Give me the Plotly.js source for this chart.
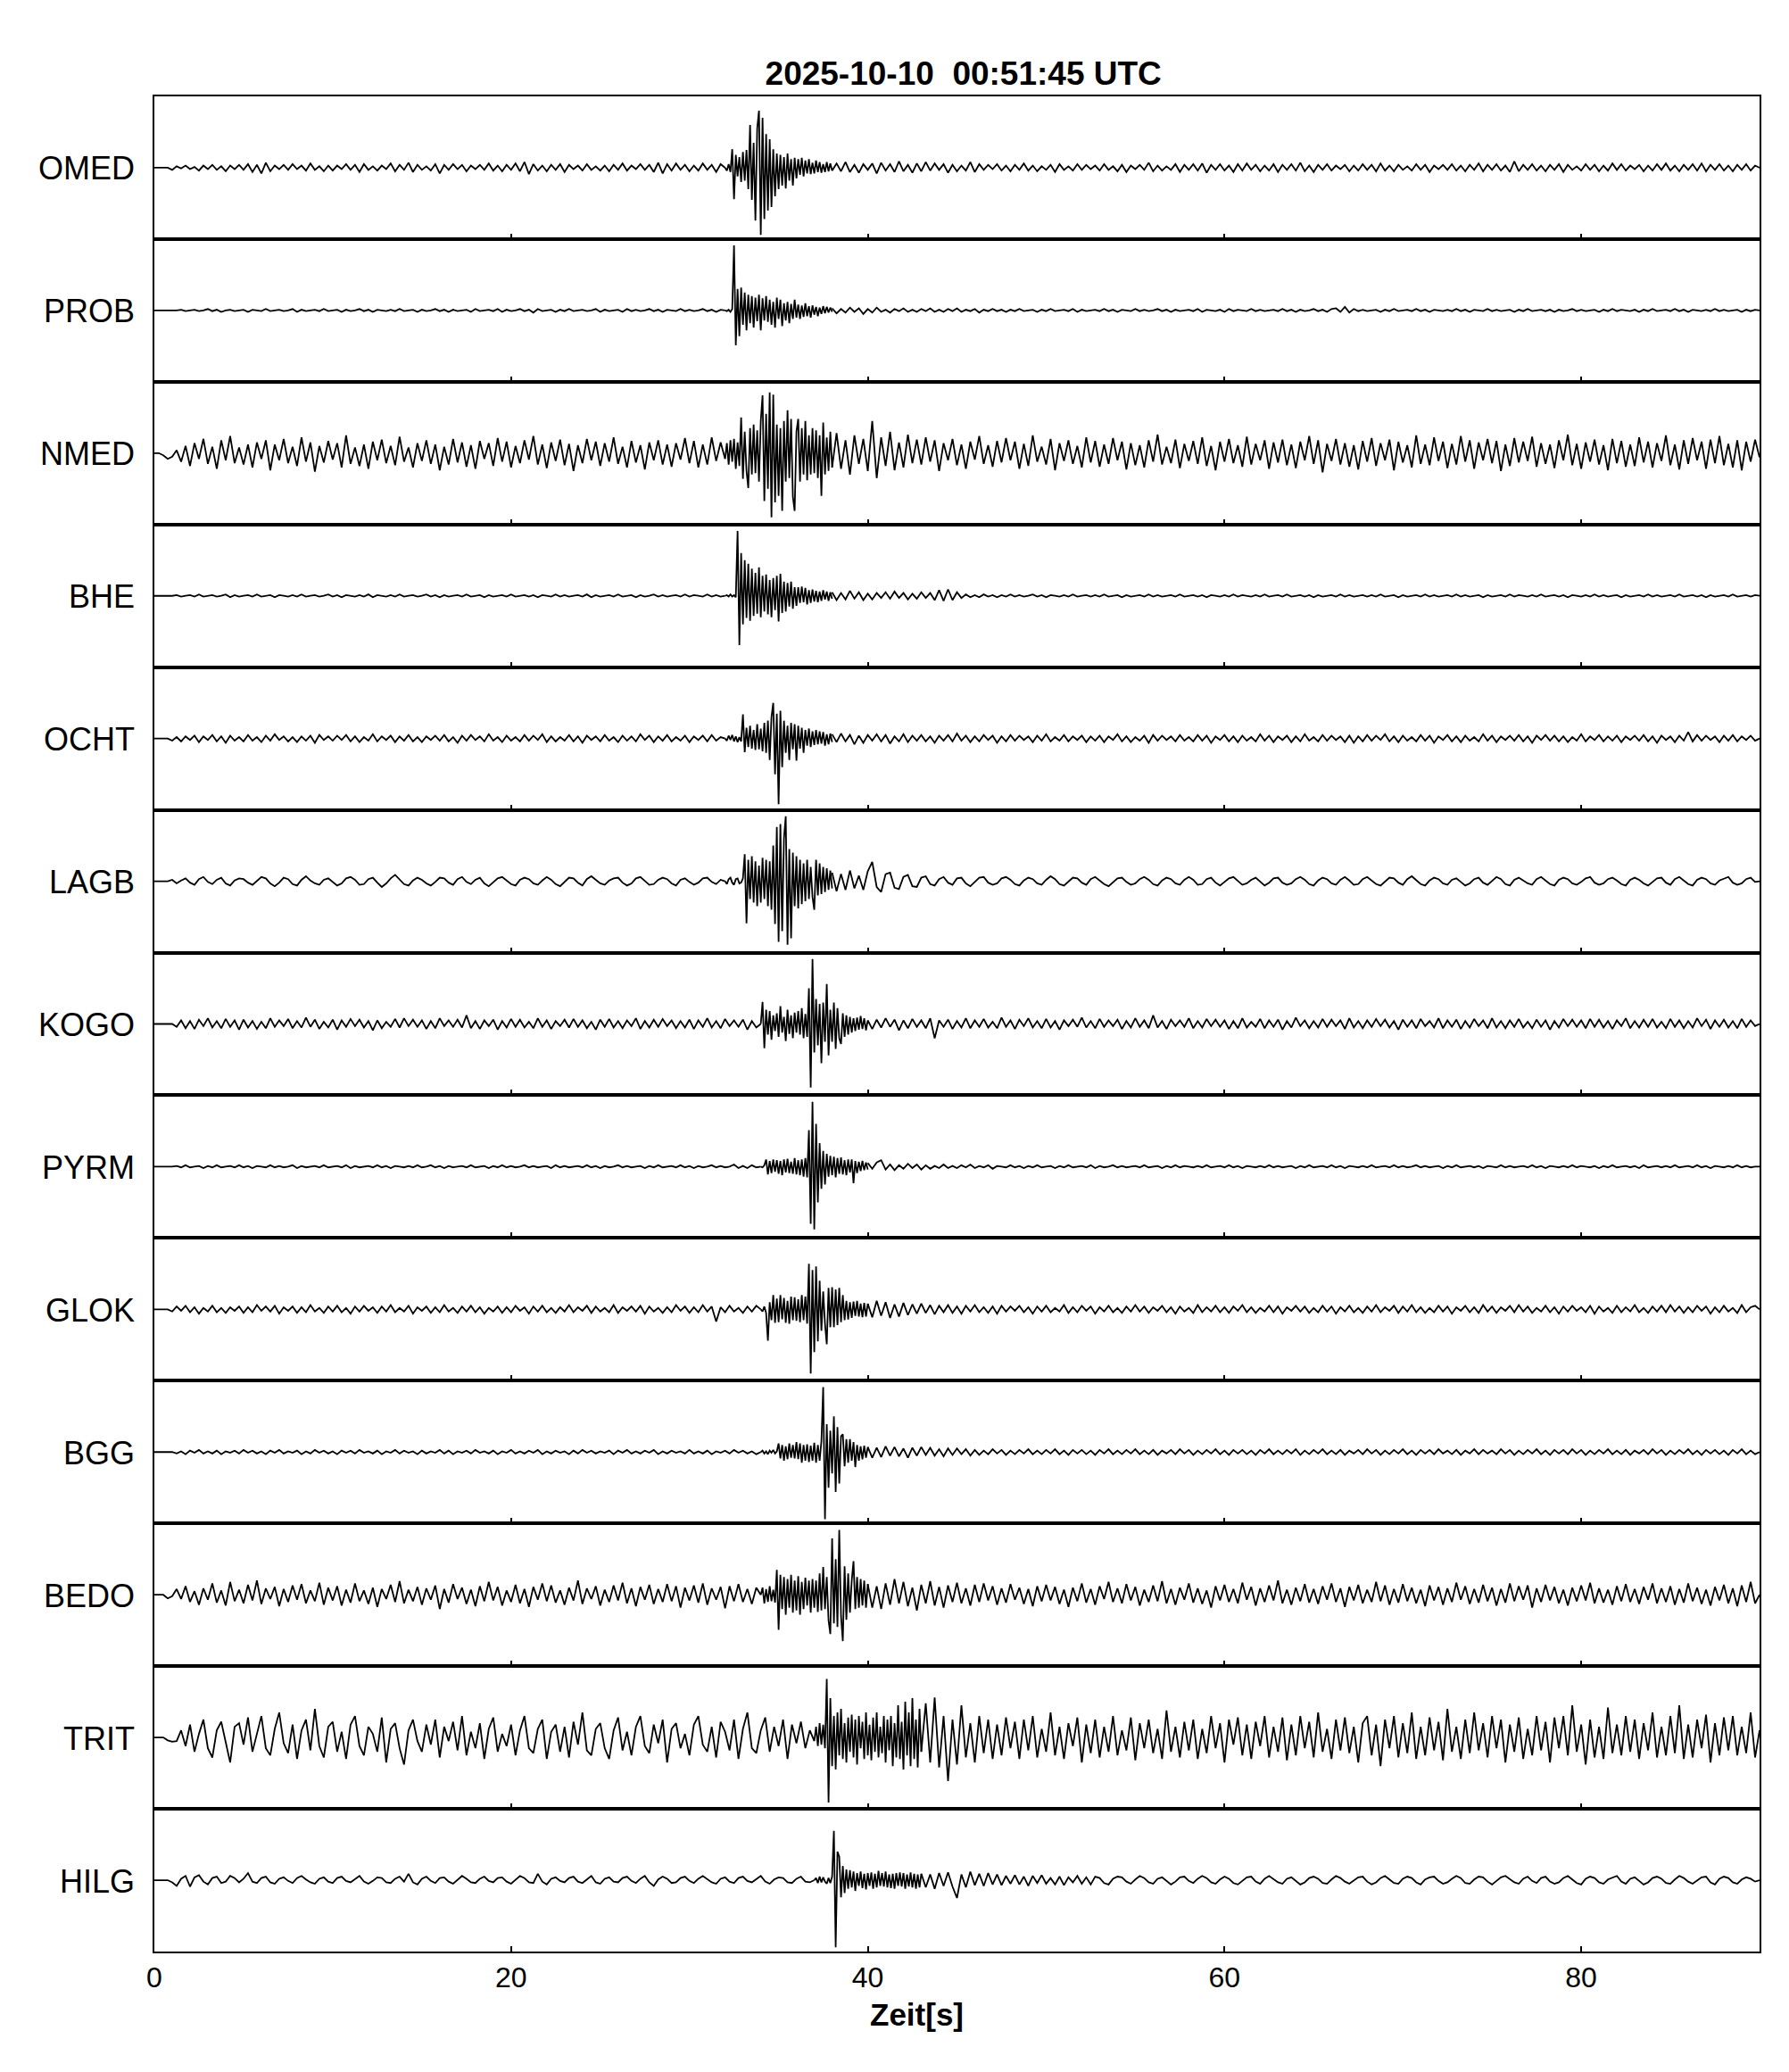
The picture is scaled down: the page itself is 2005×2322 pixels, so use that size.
<!DOCTYPE html>
<html>
<head>
<meta charset="utf-8">
<script src="https://cdn.plot.ly/plotly-3.0.1.min.js"></script>
<style>html,body{margin:0;padding:0;background:#fff;}#chart{width:2005px;height:2322px;}</style>
</head>
<body>
<div id="chart"></div>
<script>
// ---- data: station names, time windows (s), sample steps (s) ----
const stations = ['OMED','PROB','NMED','BHE','OCHT','LAGB','KOGO','PYRM','GLOK','BGG','BEDO','TRIT','HILG'];
const evtStart = [32,32,32,32,32,32,34,34,34,34,34,37,37];
const postStart = [38,38,38,38,38,38,40,40,40,40,40,43,43];
const bgStep = 0.25;
const evtStep = 0.1;
const tickVals = [0,20,40,60,80];
const tickText = ['0','20','40','60','80'];
const titleText = '2025-10-10\u00a0 00:51:45 UTC';
const xTitle = 'Zeit[s]';

// amplitudes in percent of half panel height
const omedPre = [0,0,0,0,-3,2,-1,3,-2,1,-4,3,-2,4,-3,2,-5,3,-2,4,
-3,5,-6,4,-8,7,-5,3,-2,4,-3,5,-2,3,-4,6,-3,2,-5,3,
-4,3,-2,5,-3,4,-6,5,-3,2,-4,3,-2,6,-5,4,-3,7,-6,4,
-3,2,-4,5,-8,4,-3,5,-2,4,-5,3,-2,4,-3,6,-4,3,-5,4,
-3,6,-5,8,-9,5,-4,3,-5,4,-3,5,-6,4,-2,3,-4,5,-3,2,
-4,3,-5,4,-3,6,-4,3,-2,5,-3,4,-6,7,-8,5,-4,6,-3,4,
-5,3,-4,6,-3,4,-6,5,0];
const omedEvt = [0,-4,5,-6,26,-44,18,-12,15,-20,
22,-18,25,-30,60,-45,35,-74,55,80,
-94,70,-72,47,-60,40,-55,26,-40,20,
-30,18,-25,15,-29,20,-18,12,-25,14,
-15,12,-10,14,-12,10,-8,12,-9,7,
-8,10,-6,8,-7,5,-6,8,-5,6,-4];
const omedPost = [-4,6,-5,8,-6,4,-7,5,-3,6,-8,7,-4,5,-6,9,-5,4,-7,6,
-5,8,-4,6,-3,5,-7,4,-5,3,-4,8,-6,5,-3,4,-2,5,-4,3,
-5,4,-3,6,-4,3,-5,2,-3,4,-6,5,-3,2,-4,5,-3,4,-2,3,
-4,5,-3,2,-5,4,-6,3,-2,4,-3,7,-5,3,-4,2,-3,5,-6,4,
-3,5,-4,6,-7,4,-3,5,-4,3,-6,5,-4,6,-3,4,-5,3,-4,5,
-6,4,-3,5,-4,7,-5,3,-6,4,-3,5,-4,3,-2,4,-5,3,-4,5,
-3,4,-5,6,-4,3,-5,4,-3,2,-4,5,-3,4,-6,3,-2,4,-3,5,
-4,3,-5,4,-3,6,-5,4,-3,5,-4,3,-6,9,-5,4,-3,5,-4,3,
-5,4,-3,5,-6,4,-3,2,-4,5,-3,4,-5,3,-4,6,-3,5,-4,3,
-2,4,-5,3,-4,5,-3,6,-4,3,-5,4,-3,5,-4,6,-5,4,-3,5,
-4,3,-5,4,-3,5,-4,3,0];

const probPre = [0,0,0,0,0,0,1,-1,0,1,-1,0,2,-1,1,-2,0,1,-1,0,
1,-2,1,0,-1,2,-1,0,1,-1,0,2,-2,1,-1,0,1,-1,2,-1,
0,1,-2,1,-1,0,2,-1,1,-2,1,0,-1,1,-1,2,-1,0,1,-2,
1,-1,0,2,-1,1,-2,1,-1,0,1,-2,2,-1,0,1,-1,2,-2,1,
-1,0,2,-1,1,-3,2,-1,0,1,-2,1,-1,2,-1,0,1,-1,0,2,
-2,1,-1,0,1,-2,2,-1,1,-1,0,2,-1,1,-2,1,0,-1,2,-1,
1,-1,0,2,-1,1,-2,1,0];
const probEvt = [0,-1,1,-2,2,91,-49,30,-36,32,
-20,25,-28,22,-18,20,-24,18,-15,22,
-28,17,-14,20,-16,15,-20,12,-24,18,
-12,15,-22,10,-14,12,-18,9,-12,15,
-10,8,-12,7,-9,10,-8,6,-10,7,
-6,5,-8,4,-5,6,-4,5,-3,4,-2];
const probPost = [3,-4,2,-3,4,-2,3,-5,2,-3,4,-2,1,-3,2,-1,3,-2,1,-2,
2,-1,3,-2,1,-2,2,-1,3,-2,1,-1,2,-3,1,-1,2,-1,1,-2,
1,-1,2,-1,0,1,-2,1,-1,2,-1,0,1,-1,2,-2,1,-1,0,1,
-1,2,-1,1,-2,1,0,-1,2,-1,1,-1,0,2,-1,1,-2,1,-1,0,
1,-1,2,-2,1,0,-1,1,-2,2,-1,1,0,-1,2,-1,1,-1,0,1,
-1,2,-1,1,-2,1,-1,0,2,-1,1,-2,2,3,-2,5,-3,2,-1,1,
-1,0,1,-2,1,-1,2,-1,0,1,-1,2,-1,1,-2,1,0,-1,1,-1,
2,-1,1,-2,1,0,-1,2,-1,1,-1,0,1,-2,1,-1,2,-1,0,1,
-1,1,-2,1,-1,0,2,-1,1,-1,0,1,-2,1,-1,2,-1,1,0,-1,
1,-2,1,-1,2,-1,0,1,-1,2,-1,1,-2,1,0,-1,1,-1,2,-1,
1,-1,0,1,-2,1,-1,1,0];

const nmedPre = [0,0,-3,-8,-5,4,-12,10,-18,14,-8,20,-15,9,-22,18,-10,24,-14,8,
-16,12,-20,15,-8,18,-24,12,-10,20,-14,9,-18,22,-12,15,-26,10,-13,17,
-9,14,-20,25,-15,8,-18,12,-22,16,-10,19,-14,10,-17,23,-12,8,-20,14,
-11,18,-15,12,-24,9,-16,20,-13,15,-19,11,-22,17,-8,14,-18,21,-12,16,
-20,10,-14,18,-9,24,-16,12,-21,15,-11,19,-17,13,-25,11,-14,20,-10,16,
-18,14,-12,22,-15,9,-20,17,-13,11,-23,15,-10,18,-16,12,-19,14,-9,21,
-14,17,-20,12,-16,22,-11,15,-8];
const nmedEvt = [-8,14,-16,18,-12,20,-22,15,-18,50,
-36,30,-25,-49,35,-30,40,-28,32,-40,
45,81,-67,55,-50,85,-90,82,-69,40,
-60,35,-81,45,-40,60,-35,48,-61,-81,
30,48,-40,35,-30,45,-38,25,-30,35,
-28,32,-35,25,-60,43,-30,22,-25,30,-20];
const nmedPost = [-20,28,-22,18,-30,25,-15,20,-25,45,-35,22,-18,30,-24,15,-20,26,-14,19,
-16,22,-12,18,-25,14,-10,20,-17,12,-22,16,-9,24,-15,11,-19,17,-13,21,
-10,16,-22,13,-18,25,-12,9,-16,20,-24,14,-11,18,-15,10,-20,22,-13,17,
-19,12,-15,21,-10,16,-23,14,-17,11,-20,18,-12,26,-16,9,-14,19,-21,13,
-11,17,-15,22,-18,10,-24,16,-12,20,-14,11,-19,23,-16,13,-10,18,-22,15,
-13,19,-17,12,-21,16,-10,24,-15,18,-27,13,-11,20,-16,14,-19,11,-23,17,
-12,21,-18,14,-10,19,-24,16,-13,11,-20,25,-15,12,-17,22,-11,16,-21,13,
-16,24,-12,18,-22,15,-10,20,-14,17,-25,12,-18,21,-13,16,-11,23,-19,14,
-15,12,-21,18,-10,26,-17,13,-22,15,-12,19,-16,11,-24,20,-14,17,-19,12,
-18,22,-13,16,-20,14,-11,25,-17,12,-23,18,-15,21,-10,16,-22,19,-14,24,
-17,13,-20,18,-24,16,-12,19,-6];

const bhePre = [0,0,0,0,0,1,-1,0,1,-1,2,-1,0,1,-1,0,2,-2,1,-1,
0,1,-1,2,-1,0,1,-2,1,0,-1,1,-1,2,-1,0,1,-1,0,2,
-1,1,-2,1,0,-1,1,-1,2,-2,1,0,-1,1,-1,2,-1,0,1,-1,
0,2,-1,1,-2,1,-1,0,1,-1,2,-1,0,1,-2,1,-1,0,1,-1,
2,-1,0,1,-1,1,-2,1,0,-1,2,-1,1,-1,0,1,-1,2,-2,1,
-1,0,1,-1,2,-1,0,1,-2,1,-1,0,2,-1,1,-1,0,1,-1,2,
-1,1,0,-1,2,-1,1,-1,0];
const bheEvt = [0,1,-1,2,-1,1,-2,91,-69,60,
-40,50,-31,45,-35,38,-28,32,-25,40,
-30,28,-22,30,-26,22,-30,25,-20,28,
-36,31,-24,20,-22,18,-15,20,-18,12,
-14,12,-10,13,-9,11,-12,8,-10,9,
-8,7,-9,6,-7,8,-5,6,-7,5,-4];
const bhePost = [5,-6,4,-5,7,-4,5,-6,3,-5,4,-3,5,-4,6,-3,4,-5,3,-4,
5,-3,4,-6,8,-7,9,-6,5,-3,2,-2,1,-2,2,-1,1,-2,1,-1,
2,-1,1,-1,0,2,-1,1,-2,1,0,-1,1,-1,2,-1,0,1,-1,1,
-1,2,-1,0,1,-2,1,-1,0,1,-1,2,-1,1,-1,0,1,-1,2,-1,
0,1,-1,1,-2,1,0,-1,1,-1,2,-1,1,0,-1,1,-1,2,-1,0,
1,-1,2,-1,0,1,-1,1,-2,1,-1,0,1,-1,2,-1,1,-1,0,1,
-1,1,-1,2,-1,0,1,-2,1,-1,0,1,-1,2,-1,1,-1,0,1,-1,
2,-1,1,-1,0,1,-2,1,-1,0,1,-1,2,-1,1,0,-1,1,-1,2,
-1,0,1,-1,1,-2,1,0,-1,1,-1,2,-1,1,-1,0,1,-2,1,-1,
0,1,-1,2,-1,1,-1,0,1,-1,2,-1,0,1,-1,1,-2,1,-1,0,
1,-1,2,-1,0,1,-1,1,0];

const ochtPre = [0,0,0,0,-3,2,-4,3,-2,4,-5,3,-2,5,-4,3,-6,4,-3,2,
-4,5,-3,2,-5,4,-3,6,-2,3,-4,2,-5,3,-3,4,-6,5,-2,3,
-3,4,-2,5,-4,3,-5,2,-3,6,-4,3,-2,4,-5,3,-3,5,-4,2,
-5,3,-2,4,-3,5,-4,2,-6,4,-3,5,-2,3,-4,6,-3,2,-5,4,
-3,2,-4,5,-3,4,-2,6,-5,3,-4,2,-3,5,-4,3,-6,4,-2,3,
-4,5,-3,2,-5,4,-3,3,-4,6,-2,4,-5,3,-3,5,-4,2,-3,4,
-5,3,-2,4,-4,5,-3,2,0];
const ochtEvt = [0,-3,4,-2,5,-4,3,-5,2,-4,
34,-19,15,-12,18,-14,12,-16,20,-15,
14,-18,22,-20,25,-30,30,50,-50,35,
-92,39,-40,25,-20,18,-30,22,-15,20,
-31,18,-14,15,-20,12,-10,14,-12,10,
-9,12,-8,10,-7,9,-10,6,-8,7,-5];
const ochtPost = [6,-5,7,-4,5,-8,4,-6,5,-3,6,-4,5,-7,3,-4,6,-5,4,-3,
5,-4,3,-6,4,-3,5,-4,7,-3,4,-5,3,-4,5,-2,4,-6,3,-4,
5,-3,4,-2,3,-5,4,-3,6,-4,2,-3,5,-4,3,-2,4,-5,3,-3,
4,-5,3,-2,6,-4,3,-5,2,-3,4,-6,5,-3,4,-2,3,-4,5,-3,
2,-4,5,-3,4,-6,3,-2,5,-4,3,-5,4,-3,2,-4,6,-3,4,-5,
3,-2,4,-5,3,-4,6,-3,2,-4,5,-3,4,-2,3,-5,4,-6,3,-4,
5,-3,4,-2,6,-4,3,-5,4,-3,2,-4,5,-3,4,-6,3,-2,5,-4,
3,-5,4,-3,2,-4,6,-3,4,-5,3,-2,4,-3,5,-4,3,-6,4,-2,
5,-3,4,-4,3,-5,2,-3,6,-4,3,-2,5,-4,3,-3,4,-5,3,-2,
4,-3,5,-4,3,-6,4,-2,3,-5,4,-3,9,-4,5,-3,4,-2,3,-5,
4,-3,5,-4,3,-2,4,-3,0];

const lagbPre = [0,0,0,0,2,-3,1,4,-2,-5,3,6,-1,-4,2,5,-3,-6,1,4,
3,-2,-5,1,6,4,-3,-7,-2,5,3,-4,-6,2,7,1,-3,-5,2,4,
-1,-6,-3,4,6,2,-5,-4,3,5,-2,-8,-3,4,9,3,-4,-6,1,5,
2,-3,-6,-1,5,4,-2,-5,3,6,-1,-4,2,5,-3,-7,-2,4,6,1,
-4,-6,2,5,3,-3,-5,1,6,2,-4,-7,-1,5,4,-2,-6,3,7,2,
-3,-5,1,4,5,-2,-6,-3,4,6,1,-5,-4,2,5,3,-3,-6,2,4,
-1,-5,-2,4,5,-1,-4,2,0];
const lagbEvt = [0,-4,3,5,-2,-5,3,4,-3,-2,
4,38,-59,30,-25,35,-30,28,-35,22,
-30,33,-25,30,-35,28,-40,50,-60,76,
-85,80,-70,60,91,-89,45,-80,40,-35,
35,-38,30,-32,25,-28,30,-25,20,-22,
-40,30,-20,25,-18,20,-15,18,-12,15,-10];
const lagbPost = [12,-14,10,-12,15,-10,8,-12,14,27,-8,-15,10,12,-9,-11,6,9,-7,-8,
5,7,-4,-6,3,6,-2,-5,4,5,-3,-7,-1,5,6,-2,-5,-3,4,6,
2,-4,-6,1,5,3,-3,-5,2,7,3,-4,-6,-1,5,4,-2,-5,3,6,
1,-4,-7,-2,4,5,-1,-5,-3,3,6,2,-4,-6,1,5,3,-3,-5,2,
6,2,-5,-4,3,5,-2,-6,-1,4,6,1,-5,-3,2,5,-1,-6,-2,4,
5,-2,-5,-3,3,6,2,-4,-6,1,5,3,-3,-5,2,6,1,-5,-4,3,
6,1,-4,-6,-1,5,4,-2,-5,3,7,2,-4,-6,1,5,3,-3,-5,2,
4,-1,-6,-3,3,5,-2,-5,1,6,3,-4,-6,2,5,1,-3,-5,3,6,
1,-4,-6,2,5,3,-3,-5,-1,4,6,-2,-5,-3,3,5,1,-4,-6,2,
5,2,-3,-6,-1,4,5,-2,-5,3,6,1,-4,-6,2,5,3,-3,-5,1,
4,6,-2,-5,-3,3,5,-1,0];

const kogoPre = [0,0,0,0,0,-4,5,-6,4,-7,6,-3,8,-5,4,-6,7,-4,5,-8,
6,-5,4,-7,3,-6,8,-4,5,-3,7,-6,4,-5,9,-4,6,-7,3,-5,
6,-8,5,-4,7,-3,6,-5,4,-9,5,-6,3,-4,7,-5,8,-3,6,-4,
5,-7,4,-6,8,-3,5,-4,6,-5,12,-6,4,-7,5,-3,6,-8,4,-5,
7,-4,6,-5,3,-6,8,-4,5,-7,4,-3,6,-5,7,-4,5,-6,3,-8,
6,-4,7,-5,4,-6,5,-3,8,-7,4,-5,6,-4,7,-3,5,-6,4,-5,
6,-7,5,-4,8,-5,4,-6,7,-3,5,-4,6,-8,4,-5,0];
const kogoEvt = [0,31,-34,20,-15,18,-22,12,-10,15,
-18,25,-12,10,-24,20,-14,12,-20,16,
-12,18,-15,22,-20,14,-18,50,-89,91,
-40,35,-30,28,-55,30,-25,56,-44,20,
-25,30,-35,22,-20,-28,15,-18,12,-15,
10,-12,8,-10,9,-8,11,-7,8,-9,5];
const kogoPost = [5,-7,6,-5,8,-4,6,-9,5,-6,7,-4,5,-6,8,-20,5,-4,6,-7,
4,-5,8,-6,5,-4,7,-5,3,-6,9,-4,5,-7,6,-3,8,-5,4,-6,
7,-5,4,-8,5,-3,6,-4,9,-5,4,-6,7,-4,5,-3,6,-7,4,-5,
8,-4,5,-6,12,-5,4,-7,6,-3,5,-4,8,-6,4,-5,7,-3,6,-4,
5,-7,4,-6,8,-5,3,-4,7,-6,5,-4,6,-8,4,-5,9,-3,5,-6,
4,-5,7,-4,6,-3,5,-7,8,-5,4,-6,5,-4,7,-3,6,-5,4,-8,
6,-4,5,-6,7,-3,4,-5,8,-6,5,-4,6,-7,4,-5,7,-3,5,-6,
8,-5,4,-6,5,-4,7,-5,3,-6,6,-4,5,-8,4,-5,7,-3,6,-4,
5,-6,7,-4,6,-5,4,-7,5,-3,8,-6,4,-5,6,-4,7,-5,3,-6,
7,-4,5,-6,4,-5,8,-3,6,-7,5,-4,6,-5,4,-6,7,-4,5,-3,
0];

const pyrmPre = [0,0,0,0,0,1,-1,2,-1,0,1,-2,1,-1,2,-1,0,1,-1,2,
-1,1,-2,1,0,-1,2,-1,1,-1,0,2,-2,1,-1,0,1,-1,2,-1,
0,1,-1,2,-2,1,-1,0,1,-1,2,-1,1,-2,1,0,-1,1,-1,2,
-1,0,2,-1,1,-2,1,-1,0,1,-1,2,-1,0,1,-2,1,-1,2,-1,
1,-1,0,2,-1,1,-1,0,1,-2,2,-1,1,-1,0,1,-1,2,-1,1,
-2,1,-1,0,2,-1,1,-1,0,1,-2,1,-1,2,-1,0,1,-1,2,-1,
1,-2,1,-1,0,2,-1,1,-1,0,3,-2,1,-2,2,-1,0];
const pyrmEvt = [0,-1,2,10,-11,8,-9,10,-7,9,
-10,8,-12,10,-8,11,-9,7,-10,12,
-11,9,-12,10,-14,12,-15,51,-80,91,
-88,60,-50,33,-31,22,-25,18,-14,15,
-12,14,-15,12,-10,13,-11,9,-12,10,
-8,10,-23,8,-9,7,-6,8,-5,6,-4];
const pyrmPost = [5,-3,6,9,-4,3,-5,2,-3,4,-2,3,-4,2,-3,1,-2,3,-2,1,
-2,2,-1,3,-2,1,-1,2,-3,1,0,-1,2,-1,1,-2,1,-1,2,-1,
0,1,-2,1,-1,2,-1,0,1,-1,2,-2,1,-1,0,2,-1,1,-1,0,
1,-1,2,-1,0,1,-2,1,-1,2,-1,1,0,-1,1,-1,2,-1,0,1,
-1,2,-1,1,-2,1,0,-1,1,-1,2,-1,1,-1,0,1,-2,1,-1,2,
-1,0,1,-1,2,-1,1,-2,1,0,-1,1,-1,2,-1,0,1,-1,2,-1,
1,-1,0,2,-1,1,-1,0,1,-2,1,-1,2,-1,0,1,-1,1,-2,1,
0,-1,2,-1,1,-1,0,1,-1,2,-1,1,-2,1,0,-1,1,-1,2,-1,
1,0,-1,1,-2,1,-1,2,-1,0,1,-1,1,-2,2,-1,0,1,-1,1,
-1,2,-1,0,1,-1,2,-1,1,-2,1,0,-1,1,-1,2,-1,1,-1,0,
0];

const glokPre = [0,0,0,0,-3,4,-2,5,-4,3,-6,2,-3,5,-4,2,-5,3,-2,4,
-5,3,-4,6,-2,4,-3,5,-6,3,-2,4,-5,3,-4,6,-3,2,-5,4,
-3,5,-4,2,-6,4,-3,5,-2,3,-5,4,-3,6,-4,2,-3,5,-6,3,
-2,4,-5,3,-4,6,-3,2,-5,4,-3,5,-4,3,-6,2,-3,4,-5,3,
-4,5,-2,3,-6,4,-3,5,-4,2,-5,3,-3,6,-4,3,-2,5,-5,4,
-3,2,-4,6,-5,3,-2,4,-3,5,-6,4,-3,2,-5,3,-4,6,-2,4,
-5,3,-4,6,-3,4,-17,3,-4,5,-3,2,-5,4,-3,5,0];
const glokEvt = [0,-3,4,-5,-44,10,-15,20,-19,15,
-18,20,-14,16,-19,12,-20,18,-15,17,
-16,14,-18,20,-15,18,-20,64,-90,55,
-60,60,-45,40,-30,25,-20,-49,30,-25,
31,-25,28,-22,30,-18,20,-15,12,-14,
10,-12,11,-9,12,-10,8,-11,9,-10,8];
const glokPost = [8,-11,12,-9,10,-12,7,-10,9,-8,7,-6,8,-5,6,-7,5,-4,6,-5,
4,-6,5,-3,6,-4,3,-5,4,-6,5,-3,4,-2,5,-4,3,-6,4,-3,
5,-4,2,-3,6,-5,3,-4,5,-2,4,-6,3,-3,5,-4,2,-5,4,-3,
6,-3,4,-5,3,-2,5,-4,3,-6,4,-3,2,-5,6,-4,3,-3,5,-4,
3,-5,4,-2,6,-4,3,-5,2,-3,5,-4,4,-6,3,-2,5,-3,4,-5,
2,-4,5,-3,4,-6,3,-3,5,-4,2,-5,4,-3,6,-4,3,-2,5,-5,
4,-3,6,-4,3,-5,2,-4,5,-3,4,-6,3,-2,5,-4,3,-5,6,-3,
4,-5,3,-2,5,-4,6,-3,4,-5,2,-3,5,-4,3,-6,4,-3,5,-2,
3,-4,5,-6,4,-3,2,-5,5,-4,3,-3,6,-4,2,-5,4,-3,5,-4,
6,-3,4,-5,3,-4,5,-2,4,-6,3,-4,5,-3,2,-5,6,-4,3,5,
0];

const bggPre = [0,0,0,0,0,-2,1,-3,2,-1,3,-2,1,-2,2,-3,1,-1,2,-2,
3,-1,2,-2,1,-3,2,-1,3,-2,1,-1,2,-3,1,-2,3,-1,2,-2,
1,-3,2,-1,2,-2,3,-1,1,-2,2,-3,1,-1,3,-2,2,-1,1,-3,
2,-2,1,-1,3,-2,2,-3,1,-1,2,-2,3,-1,1,-2,2,-3,1,-1,
3,-2,1,-2,2,-1,3,-3,1,-2,2,-1,1,-3,2,-2,3,-1,2,-2,
1,-1,2,-3,2,-1,3,-2,1,-2,2,-1,3,-3,1,-2,2,-1,1,-2,
3,-2,1,-2,2,-3,1,-1,2,-2,3,-1,2,-2,1,-3,0];
const bggEvt = [0,2,-2,1,-3,2,-1,3,-2,1,
12,-9,10,-12,8,-10,12,-8,10,-9,
14,-10,12,-15,10,-12,11,-14,9,-12,
13,-15,10,-12,15,91,-94,39,-50,30,
-30,50,-56,35,-44,22,25,-20,18,-15,
18,-12,14,-21,10,-12,8,-10,9,-8,7];
const bggPost = [7,-8,6,-7,8,-5,7,-6,5,-8,6,-5,7,-4,6,-5,4,-6,5,-4,
5,-3,4,-5,3,-4,2,-3,4,-2,3,-4,2,-3,3,-2,4,-3,2,-3,
3,-2,4,-3,2,-4,3,-2,3,-3,2,-4,3,-2,4,-3,2,-3,3,-2,
4,-3,2,-3,3,-4,2,-2,3,-3,4,-2,3,-4,2,-3,3,-2,4,-3,
2,-4,3,-2,3,-3,2,-4,3,-2,4,-3,2,-3,3,-2,4,-4,2,-3,
3,-2,4,-3,2,-3,3,-4,2,-2,3,-3,4,-2,3,-4,2,-3,3,-2,
4,-3,2,-4,3,-2,3,-3,4,-2,2,-3,3,-4,2,-2,4,-3,3,-2,
2,-3,4,-2,3,-4,2,-3,3,-2,4,-3,2,-4,3,-2,3,-3,4,-2,
3,-4,2,-3,3,-2,4,-3,2,-3,3,-4,2,-2,3,-3,4,-2,3,-4,
2,-3,3,-2,4,-3,2,-4,3,-2,3,-3,2,-4,3,-2,4,-3,2,-3,
0];

const bedoPre = [0,0,0,-5,-2,8,-6,12,-10,5,-14,9,-7,16,-11,6,-15,18,-9,7,
-12,14,-8,20,-13,9,-6,11,-16,8,-10,13,-7,15,-12,6,-9,17,-14,10,
-8,12,-15,7,-11,16,-9,6,-13,10,-17,8,-6,14,-10,19,-12,7,-9,11,
-14,9,-7,13,-20,8,-11,15,-6,10,-13,7,-16,12,-9,18,-8,11,-15,6,
-10,14,-12,8,-17,11,-7,16,-9,13,-11,6,-14,10,-8,20,-13,9,-6,12,
-15,7,-10,13,-8,17,-12,9,-16,11,-7,14,-13,8,-10,15,-9,12,-18,10,
-8,13,-11,16,-14,9,-7,11,-19,12,-9,15,-10,8,-13,10,0];
const bedoEvt = [0,10,-12,8,-10,12,-9,7,-11,35,
-49,28,-20,25,-28,22,-18,28,-25,20,
-22,26,-28,18,-20,24,-15,20,-25,22,
-18,20,-24,30,-22,39,-20,25,-36,-55,
79,-40,50,-45,91,-30,-65,40,-35,30,
-25,20,47,-20,25,-18,22,-15,20,-18,15];
const bedoPost = [15,-18,12,-20,16,-14,22,-12,18,-16,10,-22,14,-12,19,-15,11,-18,13,-10,
17,-12,9,-15,14,-10,16,-8,12,-14,9,-11,15,-7,10,-13,8,-16,12,-9,
14,-8,11,-13,7,-17,10,-9,16,-11,8,-14,12,-6,18,-10,9,-12,15,-8,
11,-15,7,-10,13,-9,19,-12,8,-14,10,-7,16,-11,9,-13,6,-18,12,-8,
14,-10,8,-12,17,-7,11,-15,9,-10,13,-8,20,-12,7,-14,10,-9,15,-11,
8,-13,12,-7,16,-10,9,-17,11,-8,14,-12,7,-10,18,-9,13,-14,8,-11,
15,-9,10,-12,7,-16,13,-8,11,-14,9,-10,17,-7,12,-13,8,-11,14,-9,
10,-15,8,-11,16,-9,12,-7,13,-18,9,-10,14,-8,11,-12,7,-15,10,-9,
13,-8,17,-12,9,-11,7,-14,12,-9,15,-10,8,-13,11,-7,16,-12,9,-10,
12,-14,8,-11,16,-9,10,-13,7,-15,11,-8,14,-12,9,-16,13,-10,18,-12,
0];

const tritPre = [0,0,0,-4,-6,-5,10,-12,18,-20,5,25,-15,-28,10,22,-8,-35,15,20,
-10,28,-20,5,30,-15,-25,12,35,-8,-22,18,-30,10,25,-18,40,-12,-28,15,
22,-20,8,-30,18,30,-12,-25,15,5,-20,28,-35,12,20,-15,-38,10,25,-5,
-20,18,-10,25,-28,15,-5,22,-18,30,-25,8,-15,20,-30,12,28,-20,5,-12,
18,-25,10,30,-15,-22,12,25,-30,8,18,-20,15,-28,22,-10,35,-18,-25,12,
20,-15,-30,10,28,-18,8,-25,15,30,-12,-22,18,-8,25,-35,12,20,-15,5,
-25,18,30,-10,-20,15,-28,22,8,-18,25,-30,12,35,-15,-22,10,28,-20,15,
-12,25,-30,18,-8,22,-15,10,-5];
const tritEvt = [-5,15,-12,20,-10,18,-15,82,-91,55,
-40,30,-45,35,-25,40,-30,20,-35,28,
-20,32,-28,25,-38,30,-15,22,-30,35,
-25,18,-32,28,-20,35,-28,15,-22,30,
-35,25,-18,30,-40,20,-28,45,-30,22,
-45,50,-25,35,-40,55,-30,25,-42,40,-20];
const tritPost = [-20,48,-35,56,-42,30,-61,25,-38,45,-28,20,-35,30,-22,25,-30,18,-25,28,
-15,22,-30,25,-18,30,-28,12,-20,35,-25,15,-30,20,-12,28,-35,18,-22,25,
-28,15,-20,30,-25,10,-18,28,-32,20,-15,25,-22,12,-30,38,-20,15,-28,22,
-18,25,-30,12,-22,30,-15,20,-35,25,-10,28,-25,18,-30,22,-12,30,-28,15,
-20,28,-32,18,-25,30,-15,22,-28,35,-20,12,-30,25,-18,28,-22,15,-35,20,
30,-25,18,-40,25,-15,30,-28,20,-22,35,-30,15,-25,28,-18,22,-32,40,-20,
15,-30,25,-22,35,-18,20,-28,30,-15,25,-35,18,-20,28,-30,12,-25,30,-18,
22,-35,28,-15,30,-25,45,-20,18,-38,25,-28,15,-30,42,-22,18,-25,30,-20,
25,-30,20,-18,35,-28,15,-25,30,-22,45,-30,18,-28,25,-15,32,-35,20,-25,
28,-18,30,-25,15,-22,35,-28,10];

const hilgPre = [0,0,0,0,-3,-8,2,6,-9,4,7,-2,-6,3,5,-4,-2,6,3,-3,
2,10,-2,-4,3,5,-3,-5,2,4,-1,-4,3,6,1,-3,-5,2,4,-2,
-4,3,5,-1,-3,2,6,-2,-5,-1,4,3,-3,-4,2,5,-2,9,-3,-6,
2,5,-1,-4,3,4,-2,-5,1,6,2,-3,-4,2,5,-1,-3,3,4,-2,
-5,1,6,3,-3,-4,9,-2,-6,2,4,-1,-3,3,5,-2,-4,1,6,-3,
-5,2,4,-2,-3,3,5,-1,-4,2,6,-3,-8,1,5,2,-4,-3,3,5,
-1,-4,2,6,1,-3,-5,2,4,-2,-4,3,5,-1,-3,2,6,-2,-5,1,
4,3,-3,-4,2,5,-2,-3,0];
const hilgEvt = [0,3,-4,5,-3,4,-2,-5,3,-4,
5,69,-94,40,33,-24,20,-18,15,-12,
14,-10,12,-15,10,-8,12,-11,9,-13,
10,-8,11,-12,9,-10,13,-8,10,-9,
12,-10,8,-11,9,-12,10,-8,11,-9,
10,-12,8,-9,11,-10,9,-12,8,-10,9];
const hilgPost = [9,-10,8,-12,10,-8,11,-9,-25,8,-10,12,-7,9,-8,10,-6,8,-7,6,
-5,7,-6,5,-8,6,-4,7,-5,3,-6,5,-7,4,-3,6,-5,4,-6,5,
3,-4,-6,2,5,4,-2,-5,1,6,3,-3,-5,2,4,-1,-6,-2,4,5,
-1,-4,2,6,3,-3,-5,1,5,2,-4,-6,-1,4,5,-2,-5,2,6,1,
-3,-5,2,4,-1,-6,-3,3,5,2,-4,-5,1,6,3,-2,-5,-1,4,5,
-2,-6,-3,3,6,1,-4,-5,2,5,3,-3,-6,1,4,5,-1,-5,-3,2,
6,3,-4,-5,1,5,4,-2,-6,-1,4,6,2,-3,-5,2,5,-1,-4,3,
5,-2,-5,-3,3,6,1,-4,-6,2,5,3,-3,-5,1,4,6,-2,-5,2,
4,-1,-6,-3,3,5,2,-4,-5,1,6,3,-2,-5,-1,4,5,-3,-6,2,
5,3,-3,-5,1,4,2,-2,0];

const preData  = [omedPre, probPre, nmedPre, bhePre, ochtPre, lagbPre, kogoPre, pyrmPre, glokPre, bggPre, bedoPre, tritPre, hilgPre];
const evtData  = [omedEvt, probEvt, nmedEvt, bheEvt, ochtEvt, lagbEvt, kogoEvt, pyrmEvt, glokEvt, bggEvt, bedoEvt, tritEvt, hilgEvt];
const postData = [omedPost, probPost, nmedPost, bhePost, ochtPost, lagbPost, kogoPost, pyrmPost, glokPost, bggPost, bedoPost, tritPost, hilgPost];

// ---- build figure ----
const N = stations.length;
const FONT = 'Liberation Sans, Arial, Helvetica, sans-serif';
const lineStyle = {color: '#000', width: 1.8};
const traces = [];
const layout = {
  width: 2005, height: 2322,
  paper_bgcolor: '#fff', plot_bgcolor: '#fff',
  margin: {l: 173, r: 33, t: 108, b: 135, pad: 0},
  showlegend: false,
  font: {family: FONT, color: '#000'},
  title: {
    text: '<b>' + titleText + '</b>',
    font: {family: FONT, size: 37, color: '#000'},
    xref: 'paper', x: 0.504, xanchor: 'center',
    yref: 'container', y: 1 - 82 / 2322, yanchor: 'middle'
  },
  annotations: []
};

for (let i = 0; i < N; i++) {
  const k = i + 1;
  const xs = k === 1 ? '' : String(k);
  const xa = 'x' + xs, ya = 'y' + xs;
  const common = {type: 'scatter', mode: 'lines', line: lineStyle, xaxis: xa, yaxis: ya, hoverinfo: 'skip'};
  traces.push(Object.assign({y: preData[i], x0: 0, dx: bgStep}, common));
  traces.push(Object.assign({y: evtData[i], x0: evtStart[i], dx: evtStep}, common));
  traces.push(Object.assign({y: postData[i], x0: postStart[i], dx: bgStep}, common));

  layout['xaxis' + xs] = {
    domain: [0, 1], range: [0, 90], anchor: ya,
    showline: true, linecolor: '#000', linewidth: 2, mirror: true,
    ticks: 'inside', ticklen: 6, tickwidth: 2, tickcolor: '#000',
    tickmode: 'array', tickvals: tickVals, ticktext: tickText,
    showticklabels: k === N,
    tickfont: {family: FONT, size: 32, color: '#000'},
    showgrid: false, zeroline: false, fixedrange: true
  };
  layout['yaxis' + xs] = {
    domain: [1 - k / N, 1 - (k - 1) / N], range: [-100, 100], anchor: xa,
    showline: true, linecolor: '#000', linewidth: 2, mirror: true,
    ticks: '', showticklabels: false, showgrid: false, zeroline: false, fixedrange: true
  };
  layout.annotations.push({
    text: stations[i], xref: 'paper', x: 0, xanchor: 'right', xshift: -20,
    yref: ya, y: 0, yanchor: 'middle', yshift: -1, showarrow: false,
    font: {family: FONT, size: 36, color: '#000'}
  });
}
layout.annotations.push({
  text: '<b>' + xTitle + '</b>', xref: 'paper', x: 0.475, xanchor: 'center',
  yref: 'paper', y: -70 / 2079, yanchor: 'middle', showarrow: false,
  font: {family: FONT, size: 35, color: '#000'}
});

Plotly.newPlot('chart', traces, layout, {displayModeBar: false, staticPlot: true});
</script>
</body>
</html>
